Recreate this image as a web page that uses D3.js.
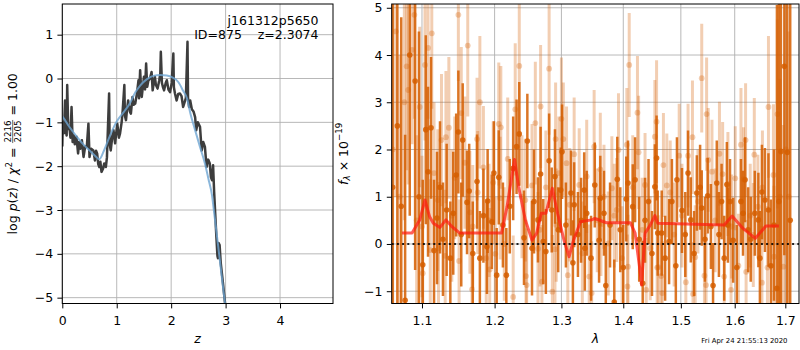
<!DOCTYPE html>
<html>
<head>
<meta charset="utf-8">
<script src="https://cdn.jsdelivr.net/npm/d3@7"></script>
<style>
  body { margin: 0; background: #fff; }
  svg { display: block; font-family: "DejaVu Sans", sans-serif; }
</style>
</head>
<body>
<svg id="chart" width="800" height="350"></svg>
<script>
// ---- data ----
// left panel: log p(z), jagged curve [z, log p]
var pzCurve = [
  [0.00,-1.55],[0.01,-1.00],[0.03,-1.25],[0.05,-0.50],[0.06,-1.15],[0.08,-1.30],[0.09,-0.15],[0.11,-1.15],
  [0.13,-1.10],[0.15,-1.35],[0.17,-0.65],[0.19,-1.45],[0.21,-1.30],[0.23,-1.50],[0.26,-1.33],[0.29,-1.71],
  [0.31,-1.45],[0.33,-1.60],[0.36,-1.41],[0.39,-1.79],[0.42,-1.55],[0.45,-1.56],[0.48,-1.03],[0.50,-1.79],
  [0.53,-1.60],[0.57,-1.64],[0.60,-1.87],[0.62,-1.65],[0.64,-1.71],[0.66,-1.95],[0.68,-2.02],[0.70,-1.90],
  [0.72,-2.13],[0.75,-2.05],[0.77,-1.94],[0.80,-2.02],[0.82,-1.80],[0.86,-0.34],[0.87,-1.50],[0.89,-1.64],
  [0.92,-1.30],[0.94,-1.18],[0.97,-1.48],[1.01,-1.03],[1.04,-1.35],[1.06,-1.26],[1.09,-1.00],[1.11,-0.72],
  [1.14,-0.15],[1.15,-0.85],[1.17,-0.95],[1.19,-0.70],[1.21,-0.50],[1.24,-0.75],[1.26,-0.80],[1.29,-0.42],
  [1.31,-0.60],[1.34,-0.57],[1.37,-0.35],[1.40,-0.04],[1.41,-0.45],[1.43,0.19],[1.45,-0.30],[1.46,-0.42],
  [1.50,0.04],[1.52,-0.25],[1.54,0.34],[1.56,-0.19],[1.58,-0.05],[1.61,0.00],[1.64,0.15],[1.66,-0.27],
  [1.68,-0.10],[1.70,0.04],[1.72,-0.15],[1.75,-0.23],[1.78,-0.05],[1.80,0.11],[1.81,0.61],[1.83,-0.10],
  [1.85,-0.20],[1.87,-0.27],[1.90,-0.10],[1.92,-0.04],[1.95,-0.25],[1.98,-0.31],[2.01,-0.10],[2.04,0.57],
  [2.05,-0.20],[2.07,-0.34],[2.10,-0.50],[2.13,-0.35],[2.16,-0.34],[2.19,-0.40],[2.22,-0.65],[2.24,-0.57],
  [2.27,-0.45],[2.30,0.84],[2.31,-0.45],[2.33,-0.65],[2.35,-0.50],[2.38,-0.70],[2.41,-0.75],[2.44,-0.88],
  [2.46,-1.18],[2.49,-1.00],[2.53,-1.10],[2.56,-1.64],[2.59,-1.45],[2.62,-1.56],[2.65,-2.02],[2.68,-1.85],
  [2.71,-1.94],[2.73,-2.25],[2.75,-2.32],[2.77,-1.98],[2.79,-2.60],[2.81,-3.10],[2.83,-3.60],[2.85,-4.05],
  [2.86,-4.10],[2.87,-3.75],[2.89,-3.80],[2.91,-4.20],[2.95,-4.65],[2.99,-5.13],[3.02,-5.50]
];
// smooth curve on top [z, log p]
var pzSmooth = [
  [0.00,-0.86],[0.05,-0.95],[0.10,-1.05],[0.20,-1.22],[0.30,-1.38],[0.40,-1.52],[0.50,-1.64],[0.60,-1.76],
  [0.68,-1.84],[0.76,-1.66],[0.88,-1.29],[1.00,-0.98],[1.12,-0.78],[1.24,-0.57],[1.34,-0.32],[1.43,-0.16],
  [1.55,-0.02],[1.67,0.06],[1.80,0.08],[1.92,0.07],[2.03,0.02],[2.13,-0.08],[2.22,-0.28],[2.29,-0.45],
  [2.35,-0.78],[2.44,-1.18],[2.53,-1.56],[2.62,-1.94],[2.69,-2.32],[2.75,-2.66],[2.78,-2.96],[2.87,-3.89],
  [2.99,-5.13],[3.02,-5.40]
];

// right panel: spectrum points [lambda, flux, err], dark and light layers
var specDark = [
  [1.062,1.2,4.5],[1.068,2.5,4.5],[1.073,0.8,4.0],[1.078,-1.19,3.5],[1.084,4.0,3.4],[1.091,3.45,4.0],
  [1.096,1.0,3.5],[1.101,-0.44,1.8],[1.105,2.42,2.0],[1.108,1.53,1.8],[1.112,2.46,1.5],[1.116,-0.14,1.5],
  [1.120,0.55,1.4],[1.124,1.2,1.4],[1.128,0.1,1.2],[1.133,0.72,1.4],[1.138,-0.3,1.2],[1.142,0.65,1.3],
  [1.146,1.46,1.3],[1.149,2.37,1.3],[1.153,0.2,1.1],[1.155,2.2,1.2],[1.161,0.88,1.1],[1.164,1.12,1.0],
  [1.169,-0.2,1.1],[1.175,1.32,1.0],[1.179,-0.3,1.0],[1.184,0.6,1.0],[1.189,-0.06,1.0],[1.190,0.91,1.1],
  [1.196,0.47,1.0],[1.199,1.5,1.1],[1.203,-0.66,1.0],[1.206,1.41,1.0],[1.212,0.4,0.9],[1.217,-0.66,1.0],
  [1.222,0.8,1.0],[1.227,1.6,1.1],[1.232,2.06,1.0],[1.236,2.33,1.1],[1.243,0.13,1.0],[1.248,2.18,1.0],
  [1.255,-0.09,1.0],[1.258,0.9,1.1],[1.264,0.51,0.9],[1.268,1.48,1.0],[1.272,0.05,0.9],[1.276,-0.16,0.9],
  [1.281,1.76,1.0],[1.285,0.72,0.9],[1.290,1.43,1.0],[1.295,0.3,0.9],[1.299,1.14,0.9],[1.301,1.95,1.0],
  [1.307,0.4,0.9],[1.315,1.08,0.9],[1.318,-0.4,0.9],[1.320,0.83,0.9],[1.326,0.2,0.9],[1.331,0.5,0.9],
  [1.336,1.14,0.8],[1.337,-0.09,0.9],[1.340,0.65,0.9],[1.347,-0.3,0.9],[1.353,1.25,0.9],[1.360,0.08,0.9],
  [1.362,0.97,0.9],[1.368,0.65,0.9],[1.371,-0.88,0.9],[1.378,0.4,0.9],[1.385,-1.23,0.9],[1.390,1.37,0.9],
  [1.395,0.3,0.9],[1.400,-0.5,0.9],[1.405,0.95,0.9],[1.408,1.29,0.9],[1.416,0.79,0.9],[1.420,1.36,0.9],
  [1.427,0.1,0.9],[1.433,-0.83,0.9],[1.437,0.5,0.9],[1.443,0.9,0.9],[1.449,-0.2,0.9],[1.454,1.21,0.9],
  [1.457,1.82,0.9],[1.459,0.23,0.9],[1.466,0.23,0.9],[1.472,-0.3,0.9],[1.479,0.05,0.9],[1.484,0.9,0.9],
  [1.491,-0.46,0.9],[1.493,1.36,0.9],[1.502,0.71,0.9],[1.508,0.2,0.9],[1.513,1.5,0.9],[1.518,0.51,0.9],
  [1.524,-0.2,0.9],[1.529,1.08,0.8],[1.535,1.2,0.9],[1.538,0.76,0.8],[1.544,0.1,0.9],[1.549,1.02,0.8],
  [1.555,0.37,0.9],[1.559,-0.88,0.9],[1.566,1.29,0.9],[1.570,0.2,0.9],[1.575,0.9,0.8],[1.580,-0.3,0.9],
  [1.585,1.26,0.9],[1.587,0.4,0.8],[1.591,0.9,0.9],[1.597,0.08,0.9],[1.604,-0.5,0.9],[1.612,0.9,0.9],
  [1.616,0.65,0.9],[1.620,1.36,0.9],[1.626,0.3,0.9],[1.631,0.1,0.9],[1.639,0.65,0.9],[1.646,0.51,1.0],
  [1.649,-0.3,1.0],[1.653,1.1,1.0],[1.659,0.93,1.1],[1.666,0.72,1.2],[1.671,-0.46,1.4],[1.677,0.4,1.6],
  [1.683,-0.94,6.0],[1.687,0.9,5.0],[1.691,1.96,4.0],[1.698,3.76,4.0],[1.704,1.94,4.0],[1.710,0.5,5.0]
];
var specLight = [
  [1.062,2.0,4.0],[1.066,4.5,3.5],[1.071,1.0,3.0],[1.077,3.0,2.5],[1.080,3.76,2.2],[1.082,3.26,2.0],
  [1.087,4.11,2.0],[1.090,4.85,2.2],[1.093,0.5,1.8],[1.097,2.9,1.7],[1.100,0.37,1.5],[1.101,-0.62,1.6],
  [1.104,3.79,1.6],[1.108,4.15,1.5],[1.111,-0.13,1.5],[1.113,4.46,1.6],[1.116,1.5,1.5],[1.121,0.93,1.5],
  [1.122,-0.09,1.4],[1.126,2.2,1.4],[1.131,-0.25,1.4],[1.132,2.26,1.4],[1.136,2.46,1.5],[1.140,0.6,1.4],
  [1.144,1.4,1.3],[1.149,4.85,1.4],[1.150,-0.36,1.3],[1.153,2.77,1.4],[1.158,1.72,1.4],[1.162,4.2,1.5],
  [1.165,0.67,1.3],[1.168,-0.96,1.3],[1.169,0.37,1.3],[1.175,2.22,1.3],[1.176,1.09,1.3],[1.179,3.0,1.4],
  [1.184,1.62,1.3],[1.188,-0.3,1.2],[1.192,0.5,1.2],[1.193,-0.54,1.3],[1.198,1.3,1.3],[1.201,-0.21,1.2],
  [1.206,2.54,1.3],[1.208,0.97,1.3],[1.209,2.47,1.3],[1.214,0.0,1.2],[1.219,1.8,1.3],[1.227,-1.12,1.3],
  [1.230,2.85,1.4],[1.236,3.77,1.5],[1.240,1.0,1.3],[1.245,0.93,1.3],[1.246,-0.68,1.2],[1.247,-0.87,1.2],
  [1.255,1.24,1.3],[1.260,2.56,1.3],[1.264,-0.1,1.2],[1.267,0.3,1.2],[1.268,2.91,1.3],[1.270,-0.8,1.2],
  [1.276,1.2,1.2],[1.281,3.71,1.4],[1.286,-1.01,1.2],[1.290,-0.11,1.2],[1.291,2.22,1.2],[1.292,0.4,1.2],
  [1.296,1.5,1.2],[1.300,2.65,1.3],[1.303,2.22,1.2],[1.308,1.71,1.2],[1.310,-0.66,1.2],[1.313,0.83,1.2],
  [1.320,1.9,1.2],[1.328,1.25,1.2],[1.333,-0.2,1.1],[1.340,1.43,1.2],[1.344,-0.69,1.1],[1.348,-1.04,1.1],
  [1.352,2.06,1.2],[1.357,0.5,1.1],[1.362,1.58,1.2],[1.363,0.42,1.1],[1.368,1.0,1.1],[1.375,0.01,1.1],
  [1.381,1.18,1.1],[1.385,0.6,1.1],[1.389,0.72,1.1],[1.392,1.99,1.2],[1.398,-0.3,1.1],[1.406,2.1,1.2],
  [1.407,-0.9,1.1],[1.408,-0.48,1.1],[1.410,3.79,1.1],[1.416,1.2,1.1],[1.424,2.78,1.2],[1.426,1.94,1.2],
  [1.432,0.3,1.1],[1.437,1.25,1.1],[1.439,-0.97,1.1],[1.446,-0.09,1.1],[1.454,2.27,1.2],[1.457,2.59,1.3],
  [1.458,-0.5,1.1],[1.460,-0.49,1.1],[1.465,-0.68,1.1],[1.467,-1.04,1.1],[1.469,1.67,1.1],[1.475,1.24,1.1],
  [1.481,1.09,1.1],[1.488,0.2,1.1],[1.497,1.87,1.1],[1.502,0.6,1.1],[1.509,-0.81,1.1],[1.513,1.87,1.1],
  [1.521,2.26,1.2],[1.522,-1.06,1.1],[1.526,-0.28,1.1],[1.531,0.9,1.1],[1.538,3.51,1.15],[1.543,-0.67,1.1],
  [1.546,-0.87,1.1],[1.547,2.75,1.2],[1.550,1.78,1.1],[1.557,1.53,1.1],[1.563,0.5,1.1],[1.571,1.91,1.1],
  [1.577,1.48,1.1],[1.580,-0.69,1.1],[1.587,1.27,1.1],[1.593,-0.97,1.1],[1.594,0.37,1.1],[1.601,1.39,1.1],
  [1.607,-0.46,1.1],[1.612,2.1,1.2],[1.617,1.37,1.1],[1.621,2.2,1.2],[1.622,-0.59,1.1],[1.630,0.6,1.1],
  [1.636,0.19,1.1],[1.638,1.89,1.2],[1.645,0.79,1.1],[1.653,-0.82,1.2],[1.654,1.2,1.2],[1.664,-0.5,1.3],
  [1.666,2.9,1.5],[1.676,1.46,1.5],[1.677,-0.27,1.5],[1.684,2.75,2.0],[1.689,1.0,2.5],[1.696,-0.48,3.0],
  [1.701,2.0,3.5],[1.707,1.0,3.5]
];
// model curve
var modelWave = [1.074,1.087,1.097,1.104,1.110,1.115,1.124,1.132,1.140,1.151,1.210,1.218,1.225,1.229,1.235,
  1.245,1.255,1.262,1.269,1.276,1.286,1.294,1.304,1.312,1.319,1.330,1.348,1.353,1.372,1.412,1.420,1.429,
  1.431,1.437,1.446,1.454,1.459,1.580,1.595,1.616,1.640,1.661,1.687];
var modelFlux = [0.23,0.23,0.51,0.93,0.58,0.44,0.35,0.51,0.37,0.23,0.23,0.79,1.43,1.79,1.21,
  0.51,0.08,0.23,0.65,0.65,1.18,0.65,0.08,-0.27,0.08,0.47,0.51,0.54,0.45,0.45,0.23,-0.62,
  -0.87,0.23,0.40,0.60,0.44,0.40,0.59,0.33,0.12,0.38,0.38];

// ticks
var zTicks = [0, 1, 2, 3, 4];
var pzTicks = [-5, -4, -3, -2, -1, 0, 1];
var waveTicks = [1.1, 1.2, 1.3, 1.4, 1.5, 1.6, 1.7];
var fluxTicks = [-1, 0, 1, 2, 3, 4, 5];

var labelRoot = "j161312p5650";
var labelId = "ID=875    z=2.3074";
var chiNum = "2216", chiDen = "2205", chiRatio = "1.00";
var stamp = "Fri Apr 24 21:55:13 2020";

// ---- layout ----
var svg = d3.select("#chart");
var fL = {left: 62.3, right: 333, top: 4, bottom: 303.5};
var fR = {left: 391.7, right: 799, top: 4, bottom: 303.5};
var orange = "rgb(213,94,0)";
var fs = 12.5;

var xZ = d3.scaleLinear().domain([0, 4.973]).range([fL.left, fL.right]);
var yZ = d3.scaleLinear().domain([-5.133, 1.70]).range([fL.bottom, fL.top]);
var xW = d3.scaleLog().domain([1.0608, 1.7281]).range([fR.left, fR.right]);
var yF = d3.scaleLinear().domain([-1.26, 5.08]).range([fR.bottom, fR.top]);

var defs = svg.append("defs");
[["clipL", fL], ["clipR", fR]].forEach(function (c) {
  defs.append("clipPath").attr("id", c[0]).append("rect")
    .attr("x", c[1].left).attr("y", c[1].top)
    .attr("width", c[1].right - c[1].left).attr("height", c[1].bottom - c[1].top);
});

function grid(f, xs, ys, xt, yt) {
  var g = svg.append("g").attr("stroke", "#b0b0b0").attr("stroke-width", 0.9);
  g.selectAll(".gx").data(xt).join("line")
    .attr("x1", d => xs(d)).attr("x2", d => xs(d)).attr("y1", f.top).attr("y2", f.bottom);
  g.selectAll(".gy").data(yt).join("line")
    .attr("y1", d => ys(d)).attr("y2", d => ys(d)).attr("x1", f.left).attr("x2", f.right);
}

function axes(f, xs, ys, xt, yt, xfmt) {
  var gx = svg.append("g").attr("transform", "translate(0," + f.bottom + ")")
    .call(d3.axisBottom(xs).tickValues(xt).tickFormat(xfmt).tickSize(4.9).tickPadding(8.2));
  var gy = svg.append("g").attr("transform", "translate(" + f.left + ",0)")
    .call(d3.axisLeft(ys).tickValues(yt).tickFormat(d3.format("d")).tickSize(4.9).tickPadding(4.3));
  [gx, gy].forEach(function (g) {
    g.select(".domain").remove();
    g.attr("font-family", "DejaVu Sans").attr("font-size", fs);
    g.selectAll(".tick line").attr("stroke-width", 1);
  });
  svg.append("rect").attr("x", f.left).attr("y", f.top)
    .attr("width", f.right - f.left).attr("height", f.bottom - f.top)
    .attr("fill", "none").attr("stroke", "#000").attr("stroke-width", 1);
}

// ---- left panel ----
grid(fL, xZ, yZ, zTicks, pzTicks);
var gL = svg.append("g").attr("clip-path", "url(#clipL)");
var lineZ = d3.line().x(d => xZ(d[0])).y(d => yZ(d[1]));
gL.append("path").datum(pzCurve).attr("d", lineZ)
  .attr("fill", "none").attr("stroke", "#333").attr("stroke-opacity", 0.95)
  .attr("stroke-width", 2.5).attr("stroke-linejoin", "round");
gL.append("path").datum(pzSmooth).attr("d", d3.line().curve(d3.curveMonotoneX).x(d => xZ(d[0])).y(d => yZ(d[1])))
  .attr("fill", "none").attr("stroke", "rgb(110,165,210)").attr("stroke-opacity", 0.8)
  .attr("stroke-width", 2);
axes(fL, xZ, yZ, zTicks, pzTicks, d3.format("d"));

svg.append("text").attr("x", 318.5).attr("y", 24.5).attr("text-anchor", "end")
  .attr("font-size", fs).text(labelRoot);
svg.append("text").attr("x", 318.5).attr("y", 39.2).attr("text-anchor", "end")
  .attr("font-size", fs).style("white-space", "pre").text(labelId);

// rotated y label with a small fraction
var yLab = svg.append("g").attr("font-size", fs);
var p1 = yLab.append("text").style("white-space", "pre");
p1.append("tspan").text("log ");
p1.append("tspan").attr("font-style", "italic").text("p");
p1.append("tspan").text("(");
p1.append("tspan").attr("font-style", "italic").text("z");
p1.append("tspan").text(") / ");
p1.append("tspan").attr("font-style", "italic").text("χ");
p1.append("tspan").attr("font-size", 8.7).attr("dy", -5).text("2");
p1.append("tspan").attr("dy", 5).text(" = ");
var w1 = p1.node().getComputedTextLength();
var num = yLab.append("text").attr("font-size", 8.7).attr("text-anchor", "middle").attr("y", -5.8).text(chiNum);
var den = yLab.append("text").attr("font-size", 8.7).attr("text-anchor", "middle").attr("y", 3.5).text(chiDen);
var fw = Math.max(num.node().getComputedTextLength(), den.node().getComputedTextLength()) + 2;
num.attr("x", w1 + fw / 2);
den.attr("x", w1 + fw / 2);
yLab.append("line").attr("x1", w1 + 0.5).attr("x2", w1 + fw - 0.5).attr("y1", -4.3).attr("y2", -4.3)
  .attr("stroke", "#000").attr("stroke-width", 0.6);
var p3 = yLab.append("text").style("white-space", "pre").attr("x", w1 + fw).text(" = " + chiRatio);
var wAll = w1 + fw + p3.node().getComputedTextLength();
yLab.attr("transform", "translate(17," + (153.8 + wAll / 2) + ") rotate(-90)");

svg.append("text").attr("x", (fL.left + fL.right) / 2).attr("y", 343).attr("text-anchor", "middle")
  .attr("font-size", fs).attr("font-style", "italic").text("z");

// ---- right panel ----
grid(fR, xW, yF, waveTicks, fluxTicks);
var gR = svg.append("g").attr("clip-path", "url(#clipR)");

function errorLayer(data, op, w, r) {
  var g = gR.append("g");
  g.selectAll("line").data(data).join("line")
    .attr("x1", d => xW(d[0])).attr("x2", d => xW(d[0]))
    .attr("y1", d => yF(d[1] - d[2])).attr("y2", d => yF(d[1] + d[2]))
    .attr("stroke", orange).attr("stroke-opacity", op).attr("stroke-width", w);
  g.selectAll("circle").data(data).join("circle")
    .attr("cx", d => xW(d[0])).attr("cy", d => yF(d[1])).attr("r", r)
    .attr("fill", orange).attr("fill-opacity", op);
}
errorLayer(specLight, 0.3, 3, 2.9);
errorLayer(specDark, 0.85, 2.5, 2.8);

gR.append("path").datum(modelWave.map((w, i) => [w, modelFlux[i]]))
  .attr("d", d3.line().x(d => xW(d[0])).y(d => yF(d[1])))
  .attr("fill", "none").attr("stroke", "#ff1a10").attr("stroke-opacity", 0.7)
  .attr("stroke-width", 3).attr("stroke-linejoin", "round");

gR.append("line").attr("x1", fR.left).attr("x2", fR.right).attr("y1", yF(0)).attr("y2", yF(0))
  .attr("stroke", "#000").attr("stroke-opacity", 0.85).attr("stroke-width", 2)
  .attr("stroke-dasharray", "2,3.2");

axes(fR, xW, yF, waveTicks, fluxTicks, d3.format(".1f"));

var rLab = svg.append("text").attr("transform", "translate(347.5,153.8) rotate(-90)")
  .attr("text-anchor", "middle").attr("font-size", fs).style("white-space", "pre");
rLab.append("tspan").attr("font-style", "italic").text("f");
rLab.append("tspan").attr("font-style", "italic").attr("font-size", 8.7).attr("dy", 2.7).text("λ");
rLab.append("tspan").attr("dy", -2.7).text(" × 10");
rLab.append("tspan").attr("font-size", 8.7).attr("dy", -5.2).text("−19");

svg.append("text").attr("x", (fR.left + fR.right) / 2).attr("y", 343).attr("text-anchor", "middle")
  .attr("font-size", fs).attr("font-style", "italic").text("λ");

svg.append("text").attr("x", 787.5).attr("y", 342.5).attr("text-anchor", "end")
  .attr("font-size", 6.9).text(stamp);
</script>
</body>
</html>
